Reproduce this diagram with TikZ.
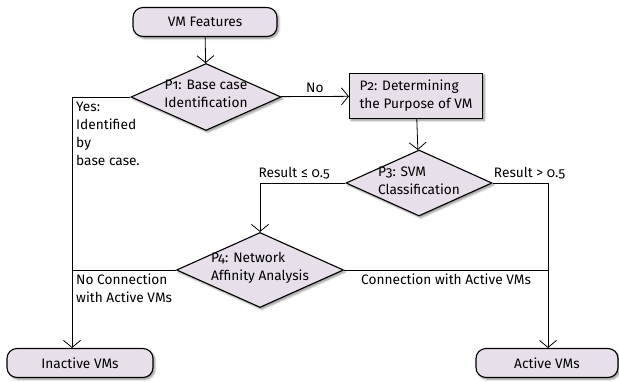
\documentclass[tikz,border=0pt]{standalone}
\usepackage{fontspec}
\setmainfont{Fira Sans}[Numbers=OldStyle]
\usetikzlibrary{shapes.geometric,arrows.meta,shadows.blur}

\definecolor{boxfill}{RGB}{231,223,234}

\tikzset{
  base/.style={draw, line width=1.1pt, fill=boxfill,
    blur shadow={shadow xshift=1.8pt, shadow yshift=-1.8pt,
      shadow blur steps=6, shadow opacity=45}},
  terminal/.style={base, rounded corners=10pt, minimum height=29pt},
  process/.style={base, minimum width=133pt, minimum height=45pt, align=left},
  decision/.style={base, diamond, inner sep=0pt},
  flow/.style={line width=0.8pt},
  tag/.style={align=left, inner sep=2pt}
}

\begin{document}
\begin{tikzpicture}[x=1pt, y=-1pt, font=\fontsize{13.7}{18}\selectfont,
  >={Straight Barb[length=7pt,width=17pt]}]

  \useasboundingbox (0,0) rectangle (619,381);

  % Start and end states
  \node[terminal, minimum width=144pt] (feat) at (205,22) {VM Features};
  \node[terminal, minimum width=146pt] (inact) at (80,363) {Inactive VMs};
  \node[terminal, minimum width=142pt] (act) at (547,363) {Active VMs};

  % Decisions
  \node[decision, minimum width=150pt, minimum height=67pt] (p1) at (206,97) {};
  \node[align=center, yshift=3pt] (p1txt) at (p1) {P1: Base case\\Identification};

  \node[decision, minimum width=146pt, minimum height=66pt] (p3) at (419,183) {};
  \node[align=left, yshift=2pt] (p3txt) at (p3) {P3: SVM\\Classification};

  \node[decision, minimum width=167pt, minimum height=75pt] (p4) at (260,270) {};
  \node[align=left, yshift=2pt] (p4txt) at (p4) {P4: Network\\Affinity Analysis};

  % Purpose step
  \node[process] (p2) at (416,96) {P2: Determining\\the Purpose of VM};

  % Corners of the two outer lines
  \coordinate (lft) at (72,97);
  \coordinate (rgt) at (548,183);

  % Main flow
  \draw[flow,->] (feat) -- (p1);
  \draw[flow,->] (p1) -- node[above] (no) {No} (p2);
  \draw[flow,->] (p2) -- (p3);

  % Yes branch down to inactive
  \draw[flow,->] (p1.west) -- (lft) -- (lft |- inact.north);
  \node[tag, anchor=north west] (yes) at (74,100) {Yes:\\Identified\\by\\base case.};

  % SVM result branches
  \draw[flow,->] (p3.west) -| node[pos=0.3, above] (low) {Result ≤ 0.5} (p4.north);
  \draw[flow,->] (p3.east) -- node[pos=0, above right, inner xsep=1pt] (high) {Result > 0.5}
    (rgt) -- (rgt |- act.north);

  % Network affinity branches
  \draw[flow] (p4.west) -- (p4.west -| lft);
  \node[tag, anchor=north west] (nocon) at (74,272) {No Connection\\with Active VMs};
  \draw[flow] (p4.east) -- node[below] (con) {Connection with Active VMs} (p4.east -| rgt);

\end{tikzpicture}
\end{document}
